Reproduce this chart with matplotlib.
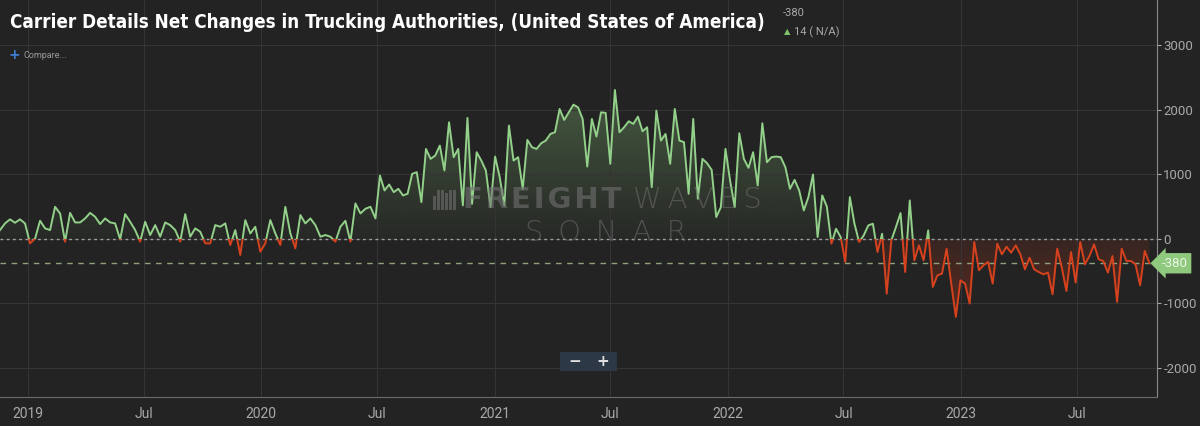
import matplotlib
matplotlib.use("Agg")
import matplotlib.pyplot as plt
import matplotlib.dates as mdates
import matplotlib.transforms as mtransforms
from matplotlib.patches import Rectangle
import numpy as np
import pandas as pd

plt.rcParams["axes.unicode_minus"] = False

# Недельное чистое изменение числа лицензий перевозчиков (США)
# часть 1: ноябрь 2018 - конец июня 2020
dates_part1 = ("2018-11-18", "2020-06-28")
net_changes_part1 = [
    134, 237, 300, 247, 300, 237, -72, 0, 278, 160, 134, 494, 391, -46, 400, 252,
    252, 314, 400, 340, 227, 314, 252, 237, -10, 381, 262, 134, -46, 262, 57, 211,
    31, 252, 211, 134, -46, 381, 31, 160, 108,
    -72, -72, 211, 185, 237, -98, 134, -252, 288, 82, 185, -201, -72, 288, 82, -98,
    494, 82, -150, 366, 237, 314, 211, 31, 57, 31, -46, 185, 278, -46, 546, 391,
    464, 494, 314,
]
# часть 2: июль 2020 - октябрь 2023
dates_part2 = ("2020-07-05", "2023-10-23")
net_changes_part2 = [
    978, 747, 839, 721, 772, 670, 695, 1004, 1030, 566, 1390, 1236, 1287, 1442, 1056,
    1802, 1262, 1390, 515, 1870, 540, 1339, 1210, 1056, 489, 1272, 952, 515, 1751,
    1210, 1262, 772, 1530, 1416, 1390, 1478, 1519, 1622, 1648, 2008, 1838, 1957, 2075,
    2034, 1854, 1117, 1854, 1581, 1957, 1947, 1159, 2302, 1648, 1725, 1818, 1777, 1890,
    1663, 1725, 798, 1983, 1519, 1622,
    1159, 2008, 1519, 1494, 695, 1854, 618, 1236, 1169, 1066, 335, 489, 1390, 901, 489,
    1632, 1236, 1097, 1339, 824, 1787, 1184, 1262, 1272, 1262, 1107, 772, 911, 747, 438,
    644, 994, 26, 670, 499, -77, 154,
    26, -360, 644, 232, -51, 51, 206, 232, -206, 77, -850, -26, 180, 397, -515, 592,
    -335, -103, -335, 129, -747, -567, -541, -155, -695, -1210, -644, -695, -1004, -51,
    -489, -412, -360, -695, -77,
    -242, -124, -216, -103, -242, -474, -294, -474, -515, -551, -525, -860, -155, -448,
    -809, -206, -680, -51, -397, -268, -88, -319, -345, -525, -268, -979, -155, -345,
    -345, -397, -721, -190, -380,
]
latest_value = -380
weekly_change = 14
y_ticks = [-2000, -1000, 0, 1000, 2000, 3000]
x_range = ("2018-11-18", "2023-11-04")
y_range = (-2450, 3695)

title = "Carrier Details Net Changes in Trucking Authorities, (United States of America)"

BG = "#232323"
GREEN = "#93d08a"
RED = "#d6421e"
GRID = "#353535"
TEXT = "#a9a9a9"
WM = "#707070"

dates = pd.date_range(*dates_part1, periods=len(net_changes_part1)).append(
    pd.date_range(*dates_part2, periods=len(net_changes_part2)))
values = np.array(net_changes_part1 + net_changes_part2, dtype=float)
xnum = mdates.date2num(dates)
x0, x1 = mdates.date2num(pd.to_datetime(list(x_range)))

fig = plt.figure(figsize=(12, 4.26), dpi=100, facecolor=BG)
ax = fig.add_axes([0, 29 / 426, 1157 / 1200, 397 / 426])
ax.set_facecolor(BG)

# Сетка
ax.xaxis.set_major_locator(mdates.MonthLocator(bymonth=[1, 7]))
ax.xaxis.set_major_formatter(
    plt.FuncFormatter(lambda v, p: mdates.num2date(v).strftime("%Y") if mdates.num2date(v).month == 1 else "Jul"))
ax.set_yticks(y_ticks)
ax.grid(True, color=GRID, lw=0.8, zorder=0)

# Заливка градиентом, обрезанная по области под линией
poly = ax.fill_between(xnum, 0, values, color="none", lw=0)
clip_path = poly.get_paths()[0]

g = np.linspace(0, 1, 256).reshape(-1, 1)
green_img = np.zeros((256, 1, 4))
green_img[..., :3] = matplotlib.colors.to_rgb("#7fb070")
green_img[..., 3] = 0.04 + 0.36 * g
im_g = ax.imshow(green_img, extent=[x0, x1, 0, 2400], origin="lower", aspect="auto", zorder=1)
im_g.set_clip_path(clip_path, transform=ax.transData)

red_img = np.zeros((256, 1, 4))
red_img[..., :3] = matplotlib.colors.to_rgb("#a8341a")
red_img[..., 3] = 0.45 - 0.3 * g
im_r = ax.imshow(red_img, extent=[x0, x1, -1300, 0], origin="lower", aspect="auto", zorder=1)
im_r.set_clip_path(clip_path, transform=ax.transData)

# Линия: зелёная выше нуля, красная ниже
line_g, = ax.plot(xnum, values, color=GREEN, lw=1.4, zorder=3, solid_joinstyle="round")
line_r, = ax.plot(xnum, values, color=RED, lw=1.4, zorder=3, solid_joinstyle="round")
line_g.set_clip_path(Rectangle((x0, 0), x1 - x0, 10000, transform=ax.transData))
line_r.set_clip_path(Rectangle((x0, -10000), x1 - x0, 10000, transform=ax.transData))

ax.axhline(0, color="#a0a0a0", lw=1, ls=(0, (2, 2.5)), zorder=2)
ax.axhline(latest_value, color="#8fa27c", lw=1, ls=(0, (4, 4)), zorder=2)

ax.set_xlim(x0, x1)
ax.set_ylim(*y_range)

# Оси
ax.yaxis.tick_right()
for s in ["top", "left"]:
    ax.spines[s].set_visible(False)
ax.spines["right"].set_color("#8a8a8a")
ax.spines["bottom"].set_color("#6a6a6a")
ax.tick_params(axis="y", colors=TEXT, labelsize=9.5, length=3, pad=1.5)
ax.tick_params(axis="x", colors=TEXT, labelsize=10, length=0, pad=7)
for lbl in ax.get_xticklabels() + ax.get_yticklabels():
    lbl.set_family("Roboto")

# Метка последнего значения
trans = mtransforms.blended_transform_factory(ax.transAxes, ax.transData)
ax.text(1.004, latest_value, f"{latest_value}", transform=trans, ha="left", va="center",
        color="#eaf6e4", fontsize=9.5, family="Roboto", clip_on=False, zorder=6,
        bbox=dict(boxstyle="larrow,pad=0.28", fc="#8fc97e", ec="none"))

# Водяной знак FreightWaves SONAR
for i, h in enumerate([14, 20, 20, 17, 20, 20]):
    fig.patches.append(Rectangle(((433 + i * 4) / 1200, 1 - 210 / 426), 2.5 / 1200, h / 426,
                                 transform=fig.transFigure, fc=WM, ec="none", alpha=0.6))
fig.text(463 / 1200, 1 - 200 / 426, "F\u200aR\u200aE\u200aI\u200aG\u200aH\u200aT", color=WM,
         alpha=0.6, fontsize=21, weight="bold", family="DejaVu Sans", ha="left", va="center")
fig.text(633 / 1200, 1 - 200 / 426, "W\u2009A\u2009V\u2009E\u2009S", color=WM, alpha=0.55,
         fontsize=21, weight="light", family="DejaVu Sans", ha="left", va="center")
fig.text(606 / 1200, 1 - 233 / 426, "S\u2002O\u2002N\u2002A\u2002R", color=WM, alpha=0.55,
         fontsize=21, weight="light", family="DejaVu Sans", ha="center", va="center")

# Заголовок и подписи
fig.text(10 / 1200, 1 - 23 / 426, title, color="white", fontsize=13.5, weight="bold",
         family="DejaVu Sans", stretch="condensed", ha="left", va="center")
fig.text(783 / 1200, 1 - 13 / 426, f"{latest_value}", color=TEXT, fontsize=8,
         family="Roboto", ha="left", va="center")
fig.text(784 / 1200, 1 - 32 / 426, "\u25b2", color="#7fc36b", fontsize=6,
         family="DejaVu Sans", ha="left", va="center")
fig.text(794 / 1200, 1 - 32 / 426, f"{weekly_change} ( N/A)", color=TEXT, fontsize=8,
         family="Roboto", ha="left", va="center")
fig.text(9 / 1200, 1 - 55 / 426, "+", color="#3f7fd6", fontsize=10, weight="bold",
         family="DejaVu Sans", ha="left", va="center")
fig.text(23 / 1200, 1 - 55 / 426, "Compare...", color="#9a9a9a", fontsize=6.5,
         family="Roboto", ha="left", va="center")

# Кнопки масштаба
fig.patches.append(Rectangle((560 / 1200, 1 - 371 / 426), 57 / 1200, 19 / 426,
                             transform=fig.transFigure, fc="#2c3846", ec="none"))
fig.text(575 / 1200, 1 - 361 / 426, "\u2212", color="#e0e0e0", fontsize=11, weight="bold",
         ha="center", va="center")
fig.text(603 / 1200, 1 - 361 / 426, "+", color="#e0e0e0", fontsize=11, weight="bold",
         ha="center", va="center")

fig.savefig("out.png", dpi=100, facecolor=BG)
